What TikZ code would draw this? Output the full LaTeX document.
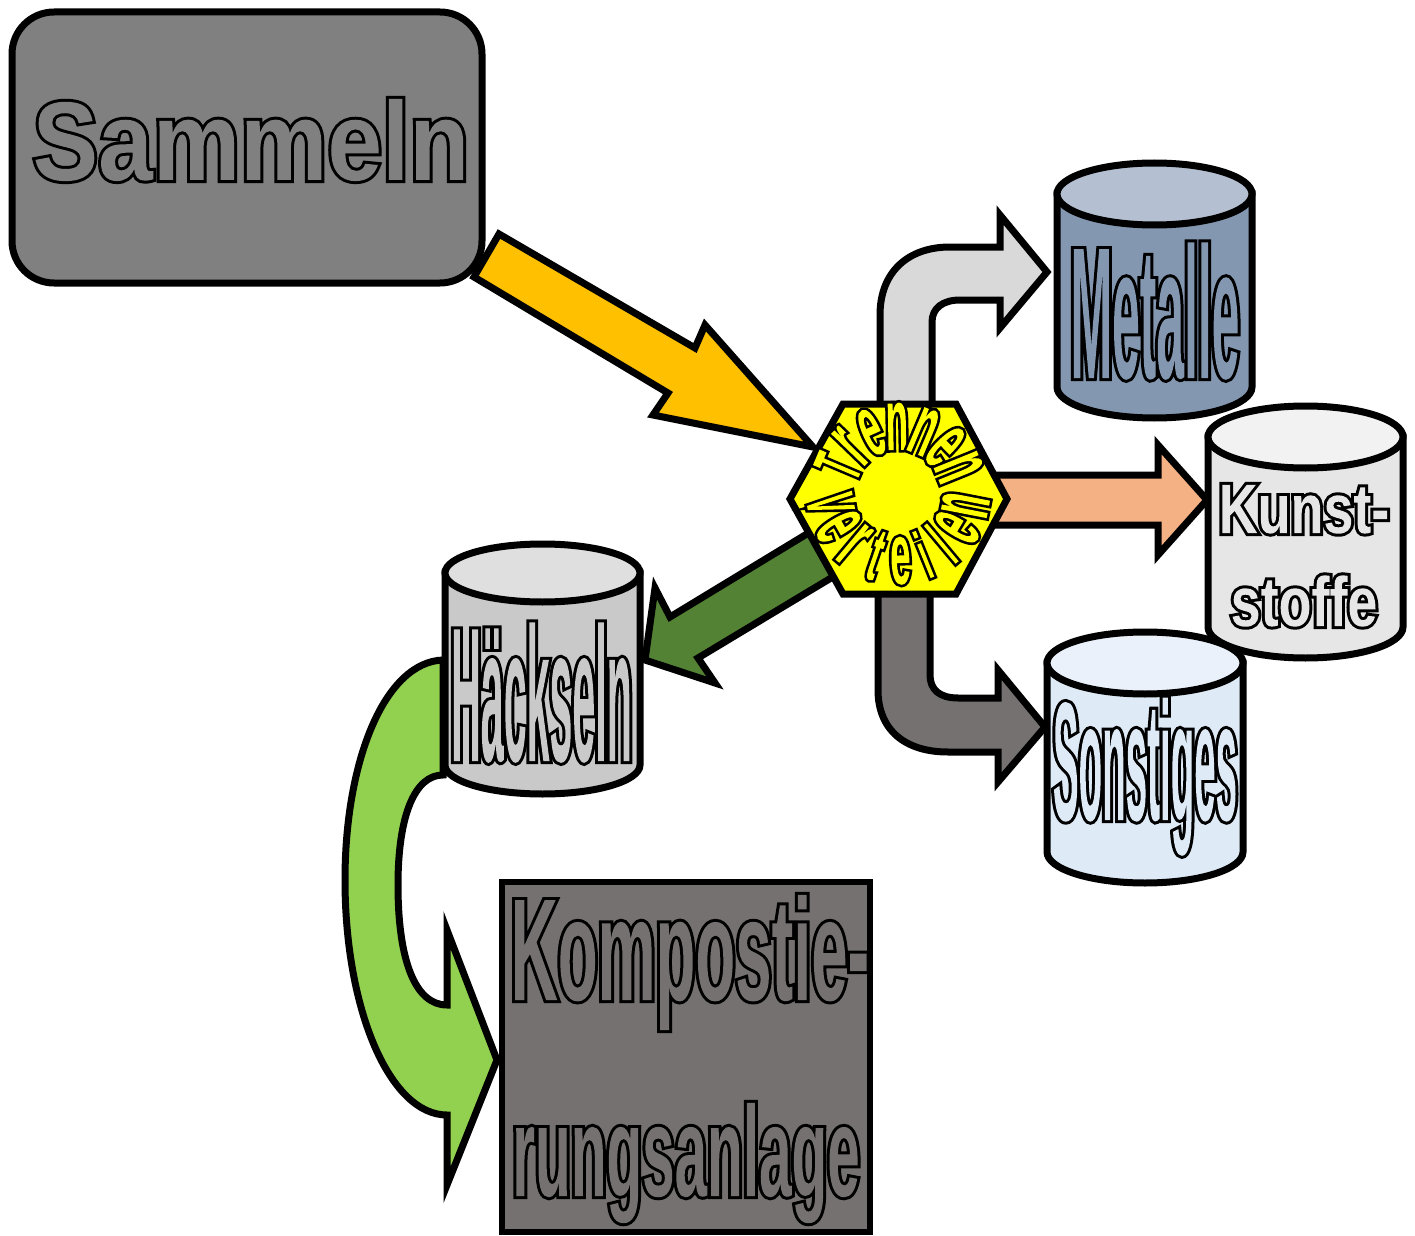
\documentclass[tikz,border=0pt]{standalone}
\usepackage{fontspec}
\setmainfont{Liberation Sans}
\usetikzlibrary{calc}

% condensed cuts of the bold sans for the individual words
\newfontfamily\sammelnfont{Liberation Sans Bold}[FakeStretch=0.877]
\newfontfamily\metallfont{Liberation Sans Bold}[FakeStretch=0.266]
\newfontfamily\shredfont{Liberation Sans Bold}[FakeStretch=0.215]
\newfontfamily\otherfont{Liberation Sans Bold}[FakeStretch=0.228]
\newfontfamily\plasticfont{Liberation Sans Bold}[FakeStretch=0.77]
\newfontfamily\kompAfont{Liberation Sans Bold}[FakeStretch=0.449]
\newfontfamily\kompBfont{Liberation Sans Bold}[FakeStretch=0.455]
\newfontfamily\ringfont{Liberation Sans Bold}[FakeStretch=0.42]

\definecolor{boxgray}{HTML}{808080}
\definecolor{arrowgold}{HTML}{FFC000}
\definecolor{hexyellow}{HTML}{FFFF00}
\definecolor{palegray}{HTML}{D9D9D9}
\definecolor{peach}{HTML}{F4B183}
\definecolor{taupe}{HTML}{767171}
\definecolor{leafdark}{HTML}{548235}
\definecolor{leaflight}{HTML}{92D050}
\definecolor{metalbody}{HTML}{8497B0}
\definecolor{metallid}{HTML}{B4C0D1}
\definecolor{plasticbody}{HTML}{E7E6E6}
\definecolor{plasticlid}{HTML}{F2F2F2}
\definecolor{otherbody}{HTML}{DEEBF7}
\definecolor{otherlid}{HTML}{EAF1FA}
\definecolor{shredbody}{HTML}{C9C9C9}
\definecolor{shredlid}{HTML}{DFDFDF}

% outlined lettering: the glyphs are stroked in black (width #2 bp) and become
% the clip path, then the colour #1 is painted through them so the black ring
% only shows outside the letter shapes
\newcommand\outlined[3]{{\color{#1}%
  \special{pdf:literal direct q 5 Tr 0 G #2 w}#3%
  \special{pdf:literal direct -20000 -20000 40000 40000 re f Q}}}
% word in family #1 at size #2
\newcommand\word[3]{#1\fontsize{#2}{#2}\selectfont #3}
% one letter of the ring lettering at font size #1
\newcommand\ringglyph[2]{\outlined{hexyellow}{2.6}{\word{\ringfont}{#1}{#2}}}

% upright drum: cx, top y, bottom y, half width (px), rx (pt), ry (pt), body colour, lid colour
\newcommand\drum[8]{%
  \filldraw[shapeline, fill=#7] (#1-#4,#2) -- (#1-#4,#3)
    arc[start angle=180, end angle=360, x radius=#5, y radius=#6]
    -- (#1+#4,#2) -- cycle;
  \filldraw[shapeline, fill=#8] (#1,#2) ellipse[x radius=#5, y radius=#6];
}

\begin{document}
\begin{tikzpicture}[x=0.5pt, y=-0.5pt,
  shapeline/.style={draw=black, line width=3.5pt, line join=miter},
  blockarrow/.style={shapeline, miter limit=10},
  wordlabel/.style={anchor=base, inner sep=0pt, outer sep=0pt},
  ringletter/.style={anchor=base, inner sep=0pt, outer sep=0pt}]
\useasboundingbox (0,0) rectangle (1415,1236);

% collecting box
\node[shapeline, fill=boxgray, rounded corners=21pt, minimum width=235pt,
      minimum height=135.5pt, inner sep=0pt] (sammeln) at (247,147.5) {};
\node[wordlabel] (sammelnlabel) at (251,180)
  {\outlined{boxgray}{3}{\word{\sammelnfont}{56pt}{Sammeln}}};

% arrow into the sorting station
\filldraw[blockarrow, fill=arrowgold] (499,234) -- (695,348) -- (705,325)
  -- (813,447) -- (653,415) -- (668,393) -- (474,277) -- cycle;

% bent arrow up to the metals
\filldraw[blockarrow, fill=palegray] (880,410) -- (880,315)
  .. controls (880,272) and (908,247) .. (950,247) -- (1000,247) -- (1000,215)
  -- (1047,272) -- (1000,328) -- (1000,300) -- (960,300)
  .. controls (943,300) and (932,308) .. (932,322) -- (932,410) -- cycle;

% straight arrow to the plastics
\filldraw[blockarrow, fill=peach] (985,475) -- (1158,475) -- (1158,445)
  -- (1207,500) -- (1158,555) -- (1158,525) -- (985,525) -- cycle;

% bent arrow down to the rest
\filldraw[blockarrow, fill=taupe] (878,585) -- (878,690)
  .. controls (878,730) and (905,752) .. (948,752) -- (998,752) -- (998,782)
  -- (1045,727) -- (998,670) -- (998,698) -- (958,698)
  .. controls (940,698) and (930,690) .. (930,675) -- (930,585) -- cycle;

% arrow to the shredder
\filldraw[blockarrow, fill=leafdark] (820,526) -- (670,617) -- (655,588)
  -- (645,660) -- (715,683) -- (698,658) -- (846,569) -- cycle;

% sorting station
\coordinate (hexc) at (898.5,499);
\filldraw[shapeline, fill=hexyellow] (790,499) -- (843,404) -- (956,404)
  -- (1007,499) -- (956,594) -- (843,594) -- cycle;
\coordinate (ringc) at (898,492);
\foreach \ch/\ang/\sz [count=\i] in
    {T/157/34pt,r/136/44pt,e/114/44pt,n/91/44pt,n/67/44pt,e/44/44pt,n/22/44pt}
  \node[ringletter, rotate=\ang-90] (trennen\i) at ($(ringc)+(\ang:21pt)$)
    {\ringglyph{\sz}{\ch}};
\foreach \ch/\ang/\sz [count=\i] in
    {V/190/34pt,e/210/44pt,r/230/44pt,t/251/38pt,e/272/44pt,i/292/34pt,l/310/34pt,e/329/44pt,n/349/44pt}
  \node[ringletter, rotate=\ang+90] (verteilen\i) at ($(ringc)+(\ang:46pt)$)
    {\ringglyph{\sz}{\ch}};

% curved arrow to the composting plant
\filldraw[blockarrow, fill=leaflight] (443,660)
  .. controls (385,662) and (345,760) .. (345,880)
  .. controls (345,1010) and (390,1115) .. (447,1115) -- (447,1185)
  -- (497,1060) -- (447,930) -- (447,1005)
  .. controls (415,1005) and (398,960) .. (398,885)
  .. controls (398,815) and (415,775) .. (443,775) -- cycle;

% drums
\drum{1154.5}{194}{387}{97.5}{48.75pt}{15.5pt}{metalbody}{metallid}
\node[wordlabel] (metalle) at (1155,378)
  {\outlined{metalbody}{3}{\word{\metallfont}{93.6pt}{Metalle}}};

\drum{1305.5}{437}{627}{97.5}{48.75pt}{15.5pt}{plasticbody}{plasticlid}
\node[wordlabel] (kunst) at (1304,533)
  {\outlined{plasticbody}{3}{\word{\plasticfont}{35pt}{Kunst-}}};
\node[wordlabel] (stoffe) at (1304,626)
  {\outlined{plasticbody}{3}{\word{\plasticfont}{35pt}{stoffe}}};

\drum{1145}{663}{852}{98}{49pt}{15.5pt}{otherbody}{otherlid}
\node[wordlabel] (sonstiges) at (1145,820)
  {\outlined{otherbody}{3}{\word{\otherfont}{84.5pt}{Sonstiges}}};

\drum{542.5}{573}{765}{97.5}{48.75pt}{14.5pt}{shredbody}{shredlid}
\node[wordlabel] (haeckseln) at (541.5,761)
  {\outlined{shredbody}{3}{\word{\shredfont}{95.7pt}{Häckseln}}};

% composting plant
\node[draw=black, line width=3pt, fill=taupe, minimum width=184pt,
      minimum height=175pt, inner sep=0pt] (kompost) at (686,1057) {};
\node[wordlabel] (kompostA) at (690,1000)
  {\outlined{taupe}{3}{\word{\kompAfont}{72.6pt}{Kompostie-}}};
\node[wordlabel] (kompostB) at (686,1196)
  {\outlined{taupe}{3}{\word{\kompBfont}{64.2pt}{rungsanlage}}};
\end{tikzpicture}
\end{document}
